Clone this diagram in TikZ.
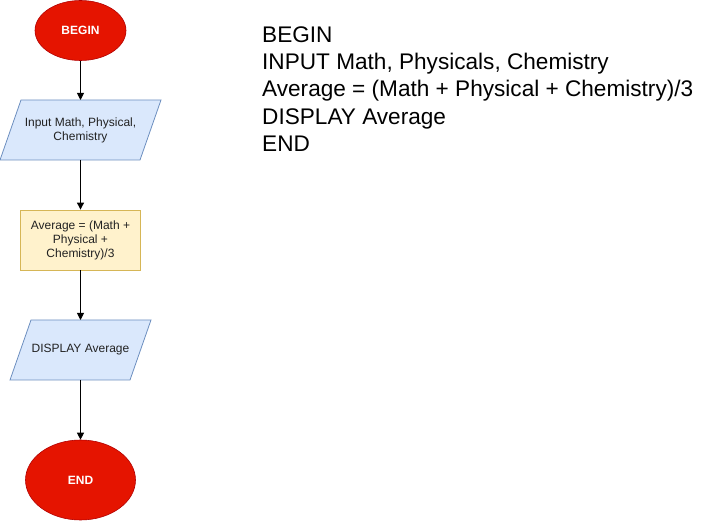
\documentclass[tikz,border=0pt]{standalone}
\usepackage{fontspec}
\setmainfont{Liberation Sans}
\usetikzlibrary{shapes.geometric,arrows.meta}
\definecolor{redfill}{HTML}{E51400}
\definecolor{redline}{HTML}{B20000}
\definecolor{bluefill}{HTML}{DAE8FC}
\definecolor{blueline}{HTML}{6C8EBF}
\definecolor{yelfill}{HTML}{FFF2CC}
\definecolor{yelline}{HTML}{D6B656}
\definecolor{txt}{HTML}{222222}
\begin{document}
\begin{tikzpicture}[x=1pt,y=-1pt,
  term/.style={ellipse,fill=redfill,draw=redline,line width=0.6pt,text=white,font=\fontsize{12}{14}\selectfont\bfseries,inner sep=0pt},
  io/.style={fill=bluefill,draw=blueline,line width=0.8pt},
  proc/.style={rectangle,fill=yelfill,draw=yelline,line width=0.8pt,minimum width=120pt,minimum height=60pt,inner sep=0pt,align=center,text=txt,font=\fontsize{12}{14}\selectfont},
  lbl/.style={text=txt,font=\fontsize{12}{14}\selectfont,align=center,inner sep=0pt},
  arr/.style={-{Triangle[length=7pt,width=7pt]},line width=0.9pt,black}]
\useasboundingbox (0,0) rectangle (721,521);
% BEGIN
\node[term,minimum width=91pt,minimum height=60pt] (begin) at (80.5,30.5) {BEGIN};
% Input parallelogram
\path[io] (21,100) -- (161,100) -- (140,160) -- (0,160) -- cycle;
\node[lbl] (input) at (80.5,130) {Input Math, Physical,\\Chemistry};
\coordinate (inputT) at (80.5,100);
\coordinate (inputB) at (80.5,160);
% Process
\node[proc] (avg) at (80.5,240) {Average = (Math +\\Physical +\\Chemistry)/3};
% Display parallelogram
\path[io] (31,320) -- (151,320) -- (130,380) -- (10,380) -- cycle;
\node[lbl] (disp) at (80.5,350) {DISPLAY Average};
\coordinate (dispT) at (80.5,320);
\coordinate (dispB) at (80.5,380);
% END
\node[term,minimum width=110pt,minimum height=80pt] (end) at (80.5,480) {END};
% connectors
\draw[arr] (begin.south) -- (inputT);
\draw[arr] (inputB) -- (avg.north);
\draw[arr] (avg.south) -- (dispT);
\draw[arr] (dispB) -- (end.north);
% pseudocode
\node[anchor=base west,align=left,inner sep=0pt,font=\fontsize{22.6}{27.2}\selectfont,text=black] (code) at (262,42.5)
{BEGIN};
\node[anchor=base west,align=left,inner sep=0pt,font=\fontsize{22.6}{27.2}\selectfont,text=black] (code2) at (262,69.7)
{INPUT Math, Physicals, Chemistry};
\node[anchor=base west,align=left,inner sep=0pt,font=\fontsize{22.6}{27.2}\selectfont,text=black] (code3) at (262,96.9)
{Average = (Math + Physical + Chemistry)/3};
\node[anchor=base west,align=left,inner sep=0pt,font=\fontsize{22.6}{27.2}\selectfont,text=black] (code4) at (262,124.1)
{DISPLAY Average};
\node[anchor=base west,align=left,inner sep=0pt,font=\fontsize{22.6}{27.2}\selectfont,text=black] (code5) at (262,151.3)
{END};
\end{tikzpicture}
\end{document}
